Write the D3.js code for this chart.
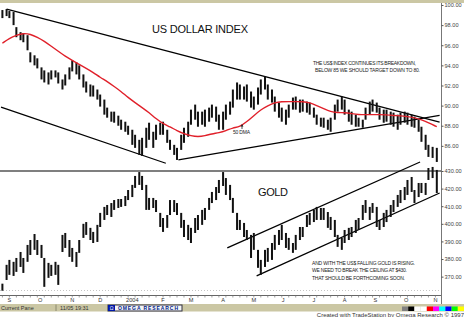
<!DOCTYPE html>
<html>
<head>
<meta charset="utf-8">
<script src="https://cdn.jsdelivr.net/npm/d3@7"></script>
<style>
  body { margin: 0; background: #fff; }
  svg { display: block; font-family: "Liberation Sans", Arial, sans-serif; }
</style>
</head>
<body>
<div id="chart"></div>
<script>
// US dollar index, half-week bars: [date, high, low]
const usdBars = [
  ["2003-08-25",99.5,98.7],["2003-08-28",99.6,98.9],["2003-09-01",99.4,98.7],["2003-09-04",99.3,98.0],
  ["2003-09-08",97.8,96.8],["2003-09-11",97.3,96.5],["2003-09-15",97.2,96.3],["2003-09-18",97.0,95.5],
  ["2003-09-22",95.3,94.3],["2003-09-25",95.0,94.0],["2003-09-29",94.7,93.7],["2003-10-02",93.8,92.6],
  ["2003-10-06",93.5,92.3],["2003-10-09",93.3,92.1],["2003-10-13",93.5,92.6],["2003-10-16",93.5,92.8],
  ["2003-10-20",93.3,92.2],["2003-10-23",92.6,91.6],["2003-10-27",93.1,92.0],["2003-10-30",93.8,92.6],
  ["2003-11-03",94.5,93.4],["2003-11-06",94.3,93.1],["2003-11-10",94.0,92.6],["2003-11-13",93.1,91.8],
  ["2003-11-17",92.4,91.3],["2003-11-20",92.1,90.9],["2003-11-24",92.0,90.9],["2003-11-27",91.6,90.6],
  ["2003-12-01",91.1,89.9],["2003-12-04",90.6,89.1],["2003-12-08",89.8,88.8],["2003-12-11",89.4,88.4],
  ["2003-12-15",89.4,88.3],["2003-12-18",89.0,88.0],["2003-12-22",88.6,87.6],["2003-12-25",88.4,87.4],
  ["2003-12-29",88.0,87.1],["2004-01-01",87.6,86.1],["2004-01-05",87.1,85.8],["2004-01-08",86.6,85.1],
  ["2004-01-12",86.8,85.0],["2004-01-15",87.8,85.8],["2004-01-19",88.3,86.6],["2004-01-22",87.4,85.8],
  ["2004-01-26",88.1,86.6],["2004-01-29",88.3,87.1],["2004-02-02",88.4,87.1],["2004-02-05",87.6,86.3],
  ["2004-02-09",86.6,85.6],["2004-02-12",86.1,85.1],["2004-02-16",85.8,84.6],["2004-02-19",87.1,85.6],
  ["2004-02-23",87.8,86.3],["2004-02-26",88.4,86.9],["2004-03-01",89.6,88.1],["2004-03-04",90.1,88.6],
  ["2004-03-08",89.4,87.9],["2004-03-11",89.4,88.1],["2004-03-15",89.6,87.9],["2004-03-18",89.8,88.4],
  ["2004-03-22",90.1,88.8],["2004-03-25",89.9,88.4],["2004-03-29",89.1,87.6],["2004-04-01",89.4,87.6],
  ["2004-04-05",90.1,88.6],["2004-04-08",90.4,89.1],["2004-04-12",91.6,89.8],["2004-04-15",92.3,90.6],
  ["2004-04-19",92.1,90.6],["2004-04-22",91.9,90.6],["2004-04-26",92.1,90.4],["2004-04-29",91.4,89.8],
  ["2004-05-03",90.9,89.6],["2004-05-06",91.8,90.1],["2004-05-10",92.6,91.1],["2004-05-13",92.9,91.6],
  ["2004-05-17",92.1,90.6],["2004-05-20",91.6,90.3],["2004-05-24",90.9,89.4],["2004-05-27",90.3,88.8],
  ["2004-05-31",89.8,88.4],["2004-06-03",89.6,88.1],["2004-06-07",90.1,88.8],["2004-06-10",90.8,89.6],
  ["2004-06-14",90.9,89.6],["2004-06-17",90.6,89.3],["2004-06-21",90.6,89.4],["2004-06-24",90.4,89.3],
  ["2004-06-28",90.3,89.1],["2004-07-01",89.8,88.8],["2004-07-05",89.1,88.1],["2004-07-08",88.8,87.9],
  ["2004-07-12",88.8,87.8],["2004-07-15",88.6,87.6],["2004-07-19",88.8,87.4],["2004-07-22",90.1,88.6],
  ["2004-07-26",90.6,89.4],["2004-07-29",90.9,89.6],["2004-08-02",90.6,89.1],["2004-08-05",89.6,88.4],
  ["2004-08-09",89.4,88.1],["2004-08-12",89.1,87.9],["2004-08-16",88.8,87.9],["2004-08-19",88.6,87.8],
  ["2004-08-23",89.8,88.6],["2004-08-26",90.4,89.1],["2004-08-30",90.6,89.4],["2004-09-02",90.3,89.3],
  ["2004-09-06",89.8,88.6],["2004-09-09",89.6,88.3],["2004-09-13",89.6,88.4],["2004-09-16",89.4,88.1],
  ["2004-09-20",89.3,87.9],["2004-09-23",89.1,87.6],["2004-09-27",89.3,88.1],["2004-09-30",89.4,88.3],
  ["2004-10-04",89.3,88.1],["2004-10-07",89.1,87.9],["2004-10-11",88.9,87.8],["2004-10-14",88.6,87.4],
  ["2004-10-18",87.9,86.4],["2004-10-21",87.1,85.6],["2004-10-25",86.1,84.9],["2004-10-28",85.9,84.8],
  ["2004-11-02",85.8,84.4]
];

// 50 day moving average of the dollar index (red line)
const usdMA = [
  ["2003-08-25",96.2],["2003-09-01",96.7],["2003-09-08",97.0],["2003-09-15",97.2],["2003-09-22",97.1],
  ["2003-09-29",96.8],["2003-10-06",96.4],["2003-10-13",95.9],["2003-10-20",95.4],["2003-10-27",94.9],
  ["2003-11-03",94.5],["2003-11-10",94.1],["2003-11-17",93.7],["2003-11-24",93.3],["2003-12-01",92.8],
  ["2003-12-08",92.4],["2003-12-15",91.9],["2003-12-22",91.4],["2003-12-29",90.8],["2004-01-05",90.3],
  ["2004-01-12",89.8],["2004-01-19",89.3],["2004-01-26",88.7],["2004-02-02",88.2],["2004-02-09",87.9],
  ["2004-02-16",87.5],["2004-02-23",87.2],["2004-03-01",87.0],["2004-03-08",86.9],["2004-03-15",87.0],
  ["2004-03-22",87.2],["2004-03-29",87.3],["2004-04-05",87.5],["2004-04-12",87.8],["2004-04-19",87.9],
  ["2004-04-26",88.4],["2004-05-03",89.0],["2004-05-10",89.6],["2004-05-17",90.0],["2004-05-24",90.3],
  ["2004-05-31",90.4],["2004-06-07",90.4],["2004-06-14",90.4],["2004-06-21",90.4],["2004-06-28",90.3],
  ["2004-07-05",90.0],["2004-07-12",89.7],["2004-07-19",89.4],["2004-07-26",89.3],["2004-08-02",89.3],
  ["2004-08-09",89.2],["2004-08-16",89.1],["2004-08-23",89.1],["2004-08-30",89.1],["2004-09-06",89.1],
  ["2004-09-13",89.1],["2004-09-20",89.0],["2004-09-27",89.0],["2004-10-04",88.9],["2004-10-11",88.8],
  ["2004-10-18",88.6],["2004-10-25",88.3],["2004-11-02",87.9]
];

// gold, half-week bars: [date, high, low]
const goldBars = [
  ["2003-08-25",366,362],["2003-08-28",376.7,368.1],["2003-09-01",379.5,371],["2003-09-04",378.4,370.4],
  ["2003-09-08",380.6,372.7],["2003-09-11",384,375.5],["2003-09-15",380.6,372.1],["2003-09-18",388,378.4],
  ["2003-09-22",390.8,382.3],["2003-09-25",394.2,385.2],["2003-09-29",390.8,382.3],["2003-10-02",388,380.6],
  ["2003-10-06",380.6,364.2],["2003-10-09",377.8,369.3],["2003-10-13",376.7,370.4],["2003-10-16",378.4,371],
  ["2003-10-20",376.7,365.3],["2003-10-23",393.7,384],["2003-10-27",394.8,386.3],["2003-10-30",390.8,381.2],
  ["2003-11-03",386.3,378.4],["2003-11-06",384,375.5],["2003-11-10",390.8,383.5],["2003-11-13",400,392],
  ["2003-11-17",401,393.7],["2003-11-20",397.7,390.8],["2003-11-24",395.4,389.1],["2003-11-27",399.4,389.7],
  ["2003-12-01",406.2,398.2],["2003-12-04",409.6,402.2],["2003-12-08",410.7,405],["2003-12-11",411.8,403.9],
  ["2003-12-15",413.5,407.9],["2003-12-18",414.1,409],["2003-12-22",414.1,409.6],["2003-12-25",415.8,410.1],
  ["2003-12-29",419.2,413.5],["2004-01-01",422.1,415.2],["2004-01-05",427.2,420.4],["2004-01-08",429.4,422.1],
  ["2004-01-12",427.2,419.2],["2004-01-15",422.1,407.9],["2004-01-19",414.7,407.9],["2004-01-22",414.7,409],
  ["2004-01-26",413.5,406.7],["2004-01-29",406.2,398.2],["2004-02-02",403.3,395.4],["2004-02-05",405,397.7],
  ["2004-02-09",413.5,405],["2004-02-12",413.5,406.7],["2004-02-16",411.8,405],["2004-02-19",406.2,397.7],
  ["2004-02-23",402.2,392.5],["2004-02-26",399.4,390.8],["2004-03-01",397.7,389.1],["2004-03-04",403.3,394.8],
  ["2004-03-08",405,396.5],["2004-03-11",407.9,399.4],["2004-03-15",409,402.2],["2004-03-18",414.7,407.9],
  ["2004-03-22",418.1,411.8],["2004-03-25",420.9,413.5],["2004-03-29",424.9,417.5],["2004-04-01",429.4,421.5],
  ["2004-04-05",426,416.4],["2004-04-08",422.1,413.5],["2004-04-12",414.7,406.2],["2004-04-15",406.2,396.5],
  ["2004-04-19",402.2,396.5],["2004-04-22",400.5,392.5],["2004-04-26",396.5,390.8],["2004-04-29",393.7,380.6],
  ["2004-05-03",394.8,385.2],["2004-05-06",385.2,375],["2004-05-10",379.5,371],["2004-05-13",385.2,375.5],
  ["2004-05-17",386.3,378.4],["2004-05-20",389.1,379.5],["2004-05-24",393.7,385.2],["2004-05-27",396.5,388],
  ["2004-05-31",399.4,390.8],["2004-06-03",394.8,386.3],["2004-06-07",392,385.2],["2004-06-10",389.1,383.5],
  ["2004-06-14",393.7,385.2],["2004-06-17",398.2,390.8],["2004-06-21",398.2,392.5],["2004-06-24",405,398.2],
  ["2004-06-28",406.2,399.4],["2004-07-01",407.9,401],["2004-07-05",409.6,402.2],["2004-07-08",409,402.2],
  ["2004-07-12",409,402.2],["2004-07-15",406.7,397.7],["2004-07-19",403.9,396.5],["2004-07-22",402.2,392.5],
  ["2004-07-26",393.7,386.9],["2004-07-29",392,385.2],["2004-08-02",396.5,389.1],["2004-08-05",397.7,390.8],
  ["2004-08-09",398.2,392.5],["2004-08-12",402.2,394.8],["2004-08-16",403.3,396.5],["2004-08-19",410.7,402.2],
  ["2004-08-23",413.5,406.2],["2004-08-26",409.6,402.2],["2004-08-30",411.8,406.2],["2004-09-02",409.6,398.2],
  ["2004-09-06",402.2,396.5],["2004-09-09",406.2,398.2],["2004-09-13",407.9,401],["2004-09-16",410.7,403.9],
  ["2004-09-20",413.5,406.7],["2004-09-23",416.4,409.6],["2004-09-27",419.2,411.8],["2004-09-30",420.9,413.5],
  ["2004-10-04",424.9,416.4],["2004-10-07",426.6,418.1],["2004-10-11",419.2,411.8],["2004-10-14",423.2,415.2],
  ["2004-10-18",423.2,417.5],["2004-10-21",423.2,416.4],["2004-10-25",431.7,424.9],["2004-10-28",432.3,426],
  ["2004-11-02",430.6,417.5]
];

// hand drawn trend lines: [[date, value], [date, value]]
const usdTrendLines = [
  [["2003-08-28",99.58],["2004-11-04",88.35]],
  [["2004-02-17",84.61],["2004-11-04",89.04]],
  [["2003-08-22",89.84],["2004-02-04",84.27]]
];
const goldTrendLines = [
  [["2004-04-06",386.3],["2004-10-15",435.1]],
  [["2004-05-05",370.4],["2004-11-04",417.5]]
];

const usdTicks = [86, 88, 90, 92, 94, 96, 98, 100];
const goldTicks = [370, 380, 390, 400, 410, 420, 430];
const monthNames = ["2004", "F", "M", "A", "M", "J", "J", "A", "S", "O", "N", "D"];

const usdNote = ["THE US$ INDEX CONTINUES ITS BREAKDOWN,", "BELOW 85 WE SHOULD TARGET DOWN TO 80."];
const goldNote = ["AND WITH THE US$ FALLING GOLD IS RISING.", "WE NEED TO BREAK THE CEILING AT $430.", "THAT SHOULD BE FORTHCOMING SOON."];
const paletteColors = ["#808080", "#000000", "#ffffff", "#ffffff", "#ff0000", "#ff00ff", "#00ffff", "#0000ff", "#00ff00", "#ffff00"];

const width = 464, height = 317;
const parse = d3.timeParse("%Y-%m-%d");

// trading-day axis: weekends are skipped like the original software does
const firstDay = new Date(2003, 7, 22), lastDay = new Date(2004, 10, 5);
const sessions = d3.timeDay.range(firstDay, d3.timeDay.offset(lastDay, 1))
  .filter(d => d.getDay() !== 0 && d.getDay() !== 6);
const sessionIndex = d => d3.bisector(s => s).left(sessions, d);

const xIdx = d3.scaleLinear().domain([0, sessions.length - 1]).range([1, 441]);
const x = d => xIdx(sessionIndex(typeof d === "string" ? parse(d) : d));

const yUsd = d3.scaleLinear().domain([83.5, 100.1]).range([171, 4]);
const yGold = d3.scaleLinear().domain([360.7, 430]).range([293, 171]);

const svg = d3.select("#chart").append("svg")
  .attr("width", width)
  .attr("height", height);

svg.append("rect").attr("width", width).attr("height", height).attr("fill", "#fff");

// top frame band
svg.append("rect").attr("x", 0).attr("y", 0).attr("width", width).attr("height", 3).attr("fill", "#cbc7a4");

// pane divider and bottom dotted boundary
svg.append("line").attr("x1", 0).attr("x2", 441).attr("y1", yGold(430)).attr("y2", yGold(430))
  .attr("stroke", "#000").attr("stroke-width", 1.2);
svg.append("line").attr("x1", 0).attr("x2", 441).attr("y1", 290.5).attr("y2", 290.5)
  .attr("stroke", "#b8b8b8").attr("stroke-width", 0.8).attr("stroke-dasharray", "1,2");

// right price axes
svg.append("line").attr("x1", 441.5).attr("x2", 441.5).attr("y1", 3).attr("y2", 304)
  .attr("stroke", "#777").attr("stroke-width", 1);

const usdAxis = svg.append("g")
  .attr("transform", "translate(441.5,0)")
  .call(d3.axisRight(yUsd).tickValues(usdTicks).tickFormat(d3.format(".2f")).tickSize(2).tickPadding(1));
const goldAxis = svg.append("g")
  .attr("transform", "translate(441.5,0)")
  .call(d3.axisRight(yGold).tickValues(goldTicks).tickFormat(d3.format(".2f")).tickSize(2).tickPadding(1));
[usdAxis, goldAxis].forEach(a => {
  a.select(".domain").remove();
  a.selectAll("line").attr("stroke", "#555");
  a.selectAll("text").attr("font-size", 5.6).attr("fill", "#444").attr("font-family", "Liberation Sans, Arial, sans-serif");
});

// time axis
const months = d3.timeMonth.range(new Date(2003, 8, 1), new Date(2004, 10, 2));
const mondays = d3.timeMonday.range(firstDay, lastDay);
const xAxisG = svg.append("g");
xAxisG.append("line").attr("x1", 0).attr("x2", 441).attr("y1", 295.5).attr("y2", 295.5)
  .attr("stroke", "#666").attr("stroke-width", 1);
xAxisG.selectAll(".wk").data(mondays).enter().append("line")
  .attr("x1", d => x(d)).attr("x2", d => x(d))
  .attr("y1", 295.5).attr("y2", 297.5)
  .attr("stroke", "#777").attr("stroke-width", 0.7);
xAxisG.selectAll(".mo").data(months).enter().append("text")
  .attr("x", d => x(d))
  .attr("y", 302)
  .attr("text-anchor", "middle")
  .attr("font-size", 5.6)
  .attr("fill", "#333")
  .text(d => monthNames[d.getMonth()]);

// status bar
const status = svg.append("g");
status.append("rect").attr("x", 0).attr("y", 304).attr("width", width).attr("height", 7.5).attr("fill", "#cbc7a4");
status.append("text").attr("x", 1).attr("y", 310).attr("font-size", 5.5).attr("fill", "#333").text("Current Pane");
status.append("line").attr("x1", 56).attr("x2", 56).attr("y1", 304.5).attr("y2", 311).attr("stroke", "#8c8a70");
status.append("text").attr("x", 60).attr("y", 310).attr("font-size", 5.5).attr("fill", "#333").text("11/05   19:31");
status.append("rect").attr("x", 108).attr("y", 305).attr("width", 74).attr("height", 6).attr("fill", "#f4f4f4").attr("stroke", "#334");
status.append("rect").attr("x", 108).attr("y", 305).attr("width", 7).attr("height", 6).attr("fill", "#0018a8");
status.append("text").attr("x", 111.5).attr("y", 310).attr("text-anchor", "middle").attr("font-size", 5).attr("fill", "#fff").text("Ω");
status.append("text").attr("x", 118).attr("y", 310).attr("font-size", 5).attr("font-weight", "bold")
  .attr("fill", "#001c8c").attr("textLength", 60).text("OMEGA RESEARCH");

const paletteX = d3.scaleBand().domain(d3.range(paletteColors.length)).range([402, 464]);
status.selectAll(".pal").data(paletteColors).enter().append("rect")
  .attr("x", (d, i) => paletteX(i)).attr("y", 306.5)
  .attr("width", paletteX.bandwidth()).attr("height", 4.5)
  .attr("fill", d => d);

svg.append("text").attr("x", 464).attr("y", 316.5).attr("text-anchor", "end")
  .attr("font-size", 6).attr("fill", "#333")
  .text("Created with TradeStation by Omega Research © 1997");

// trend lines
const trend = svg.append("g").attr("stroke", "#000").attr("stroke-width", 1.3);
trend.selectAll(".tu").data(usdTrendLines).enter().append("line")
  .attr("x1", d => x(d[0][0])).attr("y1", d => yUsd(d[0][1]))
  .attr("x2", d => x(d[1][0])).attr("y2", d => yUsd(d[1][1]));
trend.selectAll(".tg").data(goldTrendLines).enter().append("line")
  .attr("x1", d => x(d[0][0])).attr("y1", d => yGold(d[0][1]))
  .attr("x2", d => x(d[1][0])).attr("y2", d => yGold(d[1][1]));

// price bars
function drawBars(data, y) {
  svg.append("g").selectAll("rect").data(data).enter().append("rect")
    .attr("x", d => x(d[0]) - 1)
    .attr("y", d => y(d[1]))
    .attr("width", 2)
    .attr("height", d => Math.max(1, y(d[2]) - y(d[1])))
    .attr("fill", "#111");
}
drawBars(usdBars, yUsd);
drawBars(goldBars, yGold);

// 50 DMA
svg.append("path")
  .datum(usdMA)
  .attr("fill", "none")
  .attr("stroke", "#e0202a")
  .attr("stroke-width", 1.4)
  .attr("d", d3.line().x(d => x(d[0])).y(d => yUsd(d[1])).curve(d3.curveBasis));

// labels
svg.append("text").attr("x", 152).attr("y", 33).attr("font-size", 11).attr("fill", "#111")
  .attr("textLength", 96).text("US DOLLAR INDEX");
svg.append("text").attr("x", 258).attr("y", 195.5).attr("font-size", 11).attr("fill", "#111")
  .attr("textLength", 30).text("GOLD");

svg.append("text").attr("x", 233).attr("y", 134).attr("font-size", 5).attr("fill", "#222")
  .attr("textLength", 17).text("50 DMA");
svg.append("line").attr("x1", 242).attr("x2", 242).attr("y1", 129).attr("y2", 125)
  .attr("stroke", "#222").attr("stroke-width", 0.8);
svg.append("path").attr("d", "M240.6,126.4 L242,124 L243.4,126.4 Z").attr("fill", "#222");

svg.append("g").selectAll("text").data(usdNote).enter().append("text")
  .attr("x", (d, i) => i === 0 ? 313 : 315)
  .attr("y", (d, i) => 64.5 + i * 7.5)
  .attr("font-size", 5)
  .attr("fill", "#222")
  .attr("textLength", (d, i) => i === 0 ? 103 : 105)
  .text(d => d);

svg.append("g").selectAll("text").data(goldNote).enter().append("text")
  .attr("x", 312)
  .attr("y", (d, i) => 264.5 + i * 7.6)
  .attr("font-size", 5)
  .attr("fill", "#222")
  .attr("textLength", (d, i) => [103, 95, 93][i])
  .text(d => d);
</script>
</body>
</html>
